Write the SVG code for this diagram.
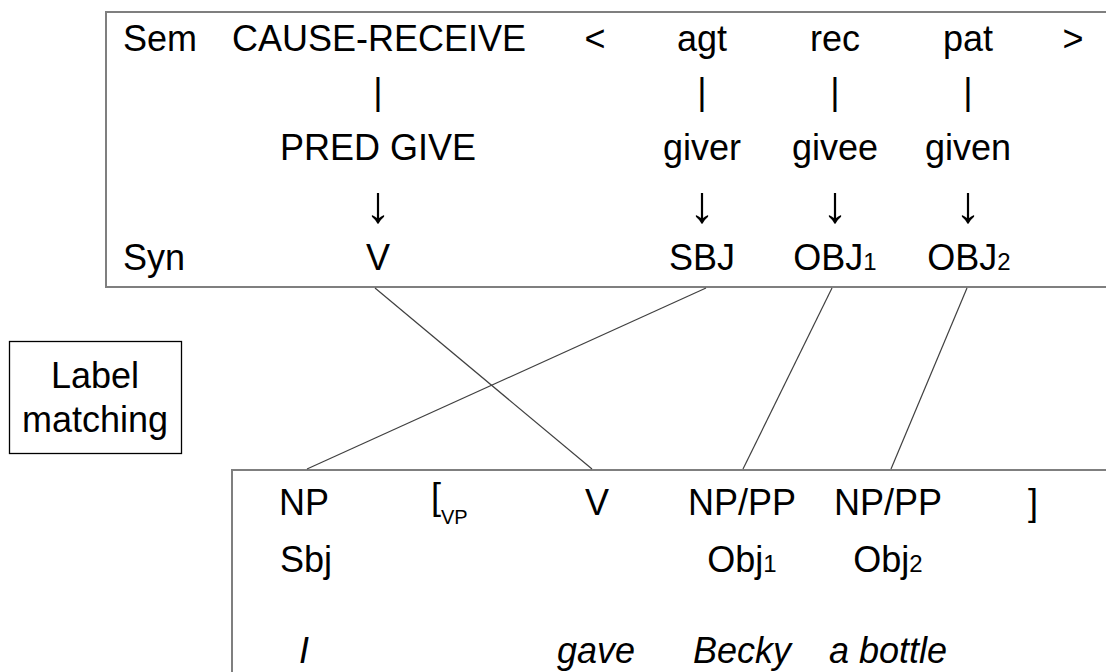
<svg xmlns="http://www.w3.org/2000/svg" width="1106" height="672" viewBox="0 0 1106 672">
<style>
text{font-family:"Liberation Sans",Arial,sans-serif;font-size:36px;fill:#000}
.c{text-anchor:middle}
.i{font-style:italic}
.sub{font-size:24px}
.vp{font-size:20px}
.arr{font-size:52px}
.box{fill:none;stroke:#7f7f7f;stroke-width:2}
.lbl{fill:none;stroke:#000;stroke-width:1.3}
.conn line{stroke:#404040;stroke-width:1.2}
</style>
<rect width="1106" height="672" fill="#fff"/>
<g id="sem-syn-box">
<rect class="box" x="106" y="12" width="1010" height="275"/>
<text x="123" y="51">Sem</text>
<text class="c" x="379" y="51">CAUSE-RECEIVE</text>
<text class="c" x="595" y="51">&lt;</text>
<text class="c" x="702" y="51">agt</text>
<text class="c" x="835" y="51">rec</text>
<text class="c" x="968" y="51">pat</text>
<text class="c" x="1073" y="51">&gt;</text>
<text class="c" x="378" y="104">|</text>
<text class="c" x="702" y="104">|</text>
<text class="c" x="835" y="104">|</text>
<text class="c" x="968" y="104">|</text>
<text class="c" x="378" y="160">PRED GIVE</text>
<text class="c" x="702" y="160">giver</text>
<text class="c" x="835" y="160">givee</text>
<text class="c" x="968" y="160">given</text>
<text class="c arr" x="378" y="222">↓</text>
<text class="c arr" x="702" y="222">↓</text>
<text class="c arr" x="835" y="222">↓</text>
<text class="c arr" x="968" y="222">↓</text>
<text x="123" y="270">Syn</text>
<text class="c" x="378" y="270">V</text>
<text class="c" x="702" y="270">SBJ</text>
<text class="c" x="835" y="270">OBJ<tspan class="sub">1</tspan></text>
<text class="c" x="969" y="270">OBJ<tspan class="sub">2</tspan></text>
</g>
<g id="label-matching">
<rect class="lbl" x="9.5" y="341.5" width="172" height="112"/>
<text class="c" x="95" y="388">Label</text>
<text class="c" x="95" y="432">matching</text>
</g>
<g id="construction-box">
<rect class="box" x="232" y="470" width="900" height="230"/>
<text class="c" x="304" y="515">NP</text>
<text x="431" y="509">[<tspan class="vp" dy="15">VP</tspan></text>
<text class="c" x="597" y="515">V</text>
<text class="c" x="742" y="515">NP/PP</text>
<text class="c" x="888" y="515">NP/PP</text>
<text class="c" x="1033" y="515">]</text>
<text x="280" y="572">Sbj</text>
<text class="c" x="742" y="572">Obj<tspan class="sub">1</tspan></text>
<text class="c" x="888" y="572">Obj<tspan class="sub">2</tspan></text>
<text class="c i" x="304" y="663">I</text>
<text class="c i" x="596" y="663">gave</text>
<text class="c i" x="742" y="663">Becky</text>
<text class="c i" x="888" y="663">a bottle</text>
</g>
<g id="connectors" class="conn">
<line x1="375" y1="288" x2="592" y2="469"/>
<line x1="706" y1="288" x2="307" y2="469"/>
<line x1="832" y1="288" x2="743" y2="469"/>
<line x1="967" y1="288" x2="891" y2="469"/>
</g>
</svg>
